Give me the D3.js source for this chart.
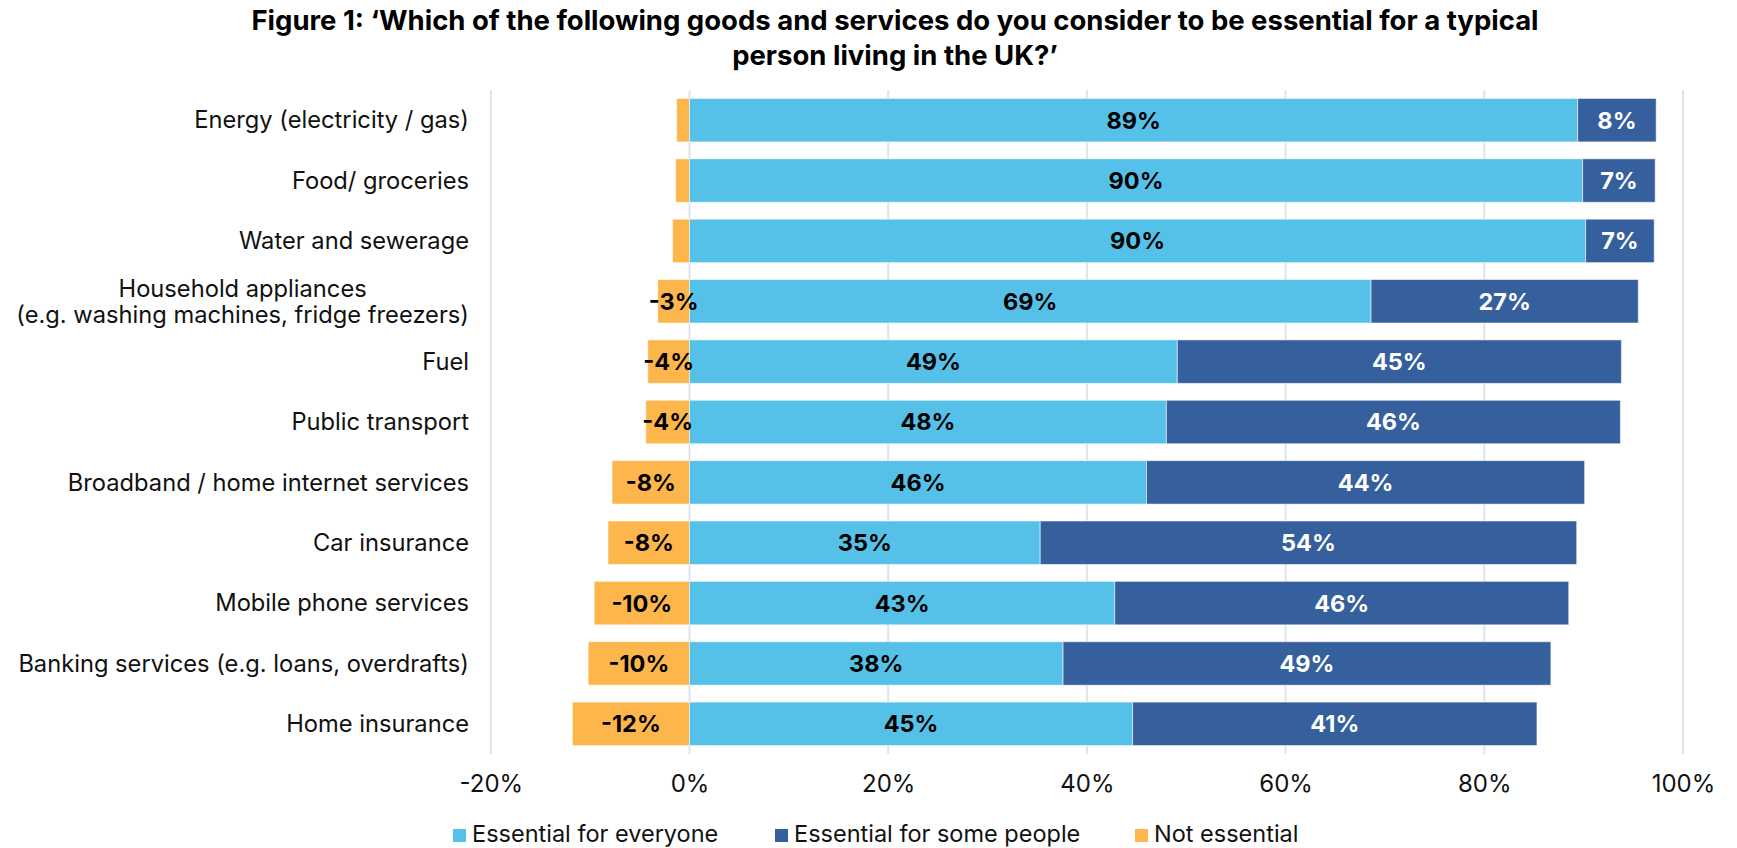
<!DOCTYPE html>
<html>
<head>
<meta charset="utf-8">
<script src="https://cdn.jsdelivr.net/npm/d3@7"></script>
<style>
  html, body { margin: 0; padding: 0; background: #ffffff; }
  svg { display: block; font-family: Inter, "Noto Sans", Roboto, sans-serif; }
</style>
</head>
<body>
<svg id="chart" width="1737" height="848"></svg>
<script>
// Survey categories, top to bottom
const categories = [
  "Energy (electricity / gas)",
  "Food/ groceries",
  "Water and sewerage",
  "Household appliances\n(e.g. washing machines, fridge freezers)",
  "Fuel",
  "Public transport",
  "Broadband / home internet services",
  "Car insurance",
  "Mobile phone services",
  "Banking services (e.g. loans, overdrafts)",
  "Home insurance"
];

// Share of respondents (%) per answer
const essentialEveryone = [89.4, 89.9, 90.2, 68.6, 49.1, 48.0, 46.0, 35.3, 42.8, 37.6, 44.6];
const essentialSome     = [7.9, 7.3, 6.9, 26.9, 44.7, 45.7, 44.1, 54.0, 45.7, 49.1, 40.7];
const notEssential      = [-1.3, -1.4, -1.7, -3.2, -4.2, -4.4, -7.8, -8.2, -9.6, -10.2, -11.8];

const seriesNames = ["Essential for everyone", "Essential for some people", "Not essential"];
const tickValues = [-20, 0, 20, 40, 60, 80, 100];

const titleLines = [
  "Figure 1: \u2018Which of the following goods and services do you consider to be essential for a typical",
  "person living in the UK?\u2019"
];

const colors = { everyone: "#56C1E8", some: "#365F9D", not: "#FDB64B" };

const svg = d3.select("#chart");
const plot = { left: 490.8, right: 1683, top: 90, bottom: 754 };
const labelRight = 469;

const x = d3.scaleLinear().domain([-20, 100]).range([plot.left, plot.right]);
const y = d3.scaleBand().domain(categories).range([plot.top, plot.bottom])
  .paddingInner(0.28).paddingOuter(0.14);

// Title
svg.append("g").selectAll("text").data(titleLines).join("text")
  .attr("x", 895)
  .attr("y", (d, i) => 30 + i * 35)
  .attr("text-anchor", "middle")
  .attr("font-size", 27.5)
  .attr("font-weight", 700)
  .attr("fill", "#000")
  .text(d => d);

// Vertical gridlines
svg.append("g").selectAll("line").data(tickValues).join("line")
  .attr("x1", d => x(d)).attr("x2", d => x(d))
  .attr("y1", plot.top).attr("y2", plot.bottom)
  .attr("stroke", "#dfe4eb").attr("stroke-width", 2);

// Stacked segments per row
const rows = categories.map((c, i) => ({
  cat: c,
  segs: [
    { key: "not", x0: notEssential[i], x1: 0, v: notEssential[i], label: "#000" },
    { key: "everyone", x0: 0, x1: essentialEveryone[i], v: essentialEveryone[i], label: "#000" },
    { key: "some", x0: essentialEveryone[i], x1: essentialEveryone[i] + essentialSome[i], v: essentialSome[i], label: "#fff" }
  ]
}));

const rowG = svg.append("g").selectAll("g").data(rows).join("g")
  .attr("transform", d => `translate(0,${y(d.cat)})`);

rowG.selectAll("rect").data(d => d.segs).join("rect")
  .attr("x", d => x(Math.min(d.x0, d.x1)))
  .attr("width", d => Math.abs(x(d.x1) - x(d.x0)))
  .attr("y", 0)
  .attr("height", y.bandwidth())
  .attr("fill", d => colors[d.key])
  .attr("stroke", "rgba(255,255,255,0.55)")
  .attr("stroke-width", 1);

rowG.selectAll("text").data(d => d.segs.filter(s => Math.abs(s.v) >= 2.5)).join("text")
  .attr("x", d => (x(d.x0) + x(d.x1)) / 2)
  .attr("y", y.bandwidth() / 2)
  .attr("dy", "0.36em")
  .attr("text-anchor", "middle")
  .attr("font-size", 23.5)
  .attr("font-weight", 700)
  .attr("fill", d => d.label)
  .text(d => Math.round(d.v) + "%");

// Category labels (multi-line labels are centred as a block, right edge at the axis gap)
const catG = svg.append("g");
categories.forEach(c => {
  const lines = c.split("\n");
  const cy = y(c) + y.bandwidth() / 2;
  const lh = 26;
  const t = catG.append("text")
    .attr("font-size", 23.7)
    .attr("fill", "#111");
  lines.forEach((ln, j) => {
    t.append("tspan")
      .attr("y", cy + (j - (lines.length - 1) / 2) * lh)
      .attr("dy", "0.35em")
      .text(ln);
  });
  if (lines.length === 1) {
    t.attr("text-anchor", "end").selectAll("tspan").attr("x", labelRight);
  } else {
    const widths = t.selectAll("tspan").nodes().map(n => n.getComputedTextLength());
    const maxW = d3.max(widths);
    t.attr("text-anchor", "middle").selectAll("tspan").attr("x", labelRight - maxW / 2);
  }
});

// X axis tick labels
const xAxis = d3.axisBottom(x).tickValues(tickValues).tickFormat(d => d + "%").tickSize(0).tickPadding(0);
const axG = svg.append("g").attr("transform", `translate(0,${plot.bottom})`).call(xAxis);
axG.select(".domain").remove();
axG.selectAll("text")
  .attr("y", 38)
  .attr("dy", 0)
  .attr("font-family", "Inter, 'Noto Sans', sans-serif")
  .attr("font-size", 24)
  .attr("fill", "#111");

// Legend
const legendItems = [
  { name: seriesNames[0], color: colors.everyone, x: 453 },
  { name: seriesNames[1], color: colors.some, x: 775 },
  { name: seriesNames[2], color: colors.not, x: 1135 }
];
const lg = svg.append("g").selectAll("g").data(legendItems).join("g")
  .attr("transform", d => `translate(${d.x},829)`);
lg.append("rect").attr("width", 13).attr("height", 13).attr("fill", d => d.color);
lg.append("text")
  .attr("x", 19).attr("y", 13)
  .attr("font-size", 23.5)
  .attr("fill", "#111")
  .text(d => d.name);
</script>
</body>
</html>
